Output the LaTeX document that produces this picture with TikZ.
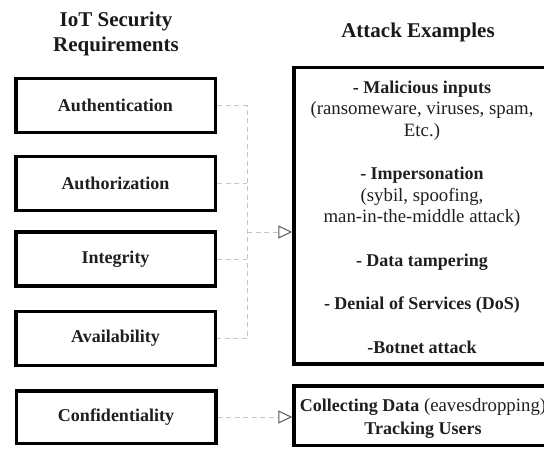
\documentclass[tikz,border=0pt]{standalone}
\usepackage{fontspec}
\setmainfont{Liberation Serif}
\usetikzlibrary{arrows.meta}
\newcommand\bx[1]{{\fontsize{18}{21.5}\selectfont\bfseries #1}}
\begin{document}
\begin{tikzpicture}[x={(1pt,0pt)},y={(0pt,-1pt)},
  box/.style={draw=black, line width=3.5pt, fill=white, minimum width=199.5pt, minimum height=54pt, inner sep=0pt, font=\fontsize{18}{21.5}\selectfont\bfseries, text=black!88},
  bigbox/.style={draw=black, line width=3.5pt, inner sep=0pt},
  conn/.style={draw=black!22, line width=0.9pt, dash pattern=on 5pt off 3.5pt},
  tipped/.style={-{Triangle[open, length=14pt, width=13pt, line width=1pt, color=black!65]}},
  ttl/.style={font=\fontsize{21}{25}\selectfont\bfseries, align=center, anchor=base, inner sep=0pt, text=black!90},
  body/.style={font=\fontsize{18.8}{21.5}\selectfont, align=center, anchor=base, inner sep=0pt, text=black!88}
]
\path[use as bounding box] (0,0) rectangle (544,448);
\clip (0,0) rectangle (544,448);

% titles (base anchor = baseline of the last line)
\node[ttl] (t1) at (116,51) {IoT Security\\Requirements};
\node[ttl] (t2) at (418,37) {Attack Examples};

% requirement boxes
\node[box] (auth)  at (115.5,105.5) {Authentication};
\node[box] (authz) at (115.5,183.5) {Authorization};
\node[box] (integ) at (115.5,259)   {Integrity};
\node[box] (avail) at (115.5,338.5) {Availability};
\node[box, minimum height=52.5pt] (conf) at (116,417) {Confidentiality};

% attack boxes
\node[bigbox, minimum width=256pt, minimum height=296.5pt] (attacks) at (422,215.75) {};
\node[bigbox, minimum width=256pt, minimum height=59.5pt] (collect) at (422,415.75) {};

\node[body] (attxt) at (422,353) {\bx{- Malicious inputs}\\
(ransomeware, viruses, spam,\\
Etc.)\\[22pt]
\bx{- Impersonation}\\
(sybil, spoofing,\\
man-in-the-middle attack)\\[22pt]
\bx{- Data tampering}\\[22pt]
\bx{- Denial of Services (DoS)}\\[22pt]
\bx{-Botnet attack}};

\node[body] (coltxt) at (423,434) {\bx{Collecting Data} (eavesdropping)\\[1.5pt]\bx{Tracking Users}};

% connectors
\coordinate (bus) at (247,232);
\draw[conn] (auth.east) -| (bus |- avail.east) -- (avail.east);
\draw[conn] (authz.east) -- (authz.east -| bus);
\draw[conn] (integ.east) -- (integ.east -| bus);
\draw[conn, tipped] (bus) -- (bus -| attacks.west);
\draw[conn, tipped] (conf.east) -- (conf.east -| collect.west);
\end{tikzpicture}
\end{document}
